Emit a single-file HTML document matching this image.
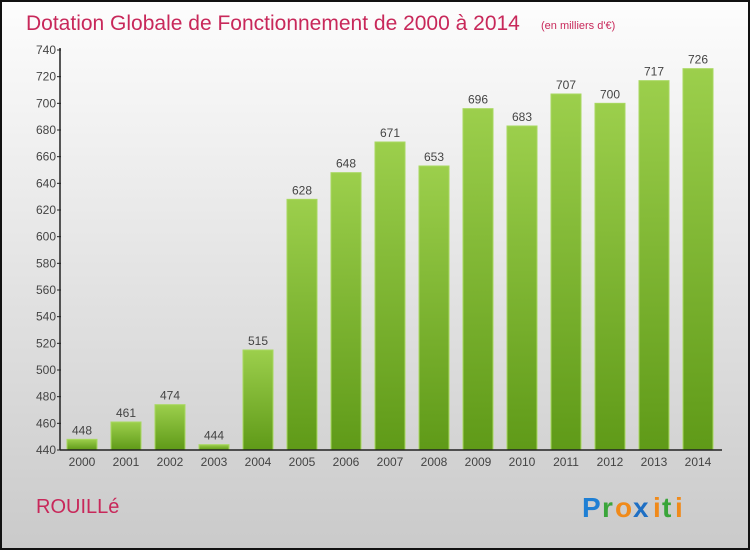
<!DOCTYPE html>
<html><head><meta charset="utf-8"><style>
html,body{margin:0;padding:0;}
body{width:750px;height:550px;overflow:hidden;font-family:"Liberation Sans",sans-serif;}
</style></head><body>
<svg id="c" width="750" height="550" xmlns="http://www.w3.org/2000/svg">
<defs>
<linearGradient id="bg" x1="0" y1="0" x2="0" y2="1"><stop offset="0" stop-color="#fdfdfd"/><stop offset="1" stop-color="#cacaca"/></linearGradient>
<linearGradient id="bar" x1="0" y1="0" x2="0" y2="1"><stop offset="0" stop-color="#9ccf4c"/><stop offset="1" stop-color="#5f9a18"/></linearGradient>
</defs>
<rect x="1" y="1" width="748" height="548" fill="url(#bg)" stroke="#111" stroke-width="2"/>
<text x="26" y="30" font-size="21" fill="#c8285a">Dotation Globale de Fonctionnement de 2000 à 2014</text>
<text x="541" y="29" font-size="11" fill="#c8285a">(en milliers d'€)</text>
<text x="36" y="513" font-size="20" fill="#c8285a">ROUILLé</text>
<g font-size="28" font-weight="bold">
<text x="582" y="517" fill="#1e7fd4">P</text><text x="602" y="517" fill="#3aa53a">r</text><text x="615" y="517" fill="#f08a1a">o</text><text x="633" y="517" fill="#1e6fc4">x</text><text x="653" y="517" fill="#f08a1a">i</text><text x="662" y="517" fill="#3aa53a">t</text><text x="675" y="517" fill="#f08a1a">i</text>
</g>
<g id="plot"></g>
</svg>
<script>
const years=["2000","2001","2002","2003","2004","2005","2006","2007","2008","2009","2010","2011","2012","2013","2014"];
const values=[448,461,474,444,515,628,648,671,653,696,683,707,700,717,726];
const yTicks=[440,460,480,500,520,540,560,580,600,620,640,660,680,700,720,740];
const NS="http://www.w3.org/2000/svg";
const g=document.getElementById('plot');
const yMin=440,yMax=740,plotTop=50,plotBot=450;
function y(v){return plotBot-(v-yMin)/(yMax-yMin)*(plotBot-plotTop);}
function x(i){return 82+i*44;}
function mk(t,a){const e=document.createElementNS(NS,t);for(const k in a)e.setAttribute(k,a[k]);g.appendChild(e);return e;}
yTicks.forEach(t=>{
  const l=mk('line',{x1:57,x2:61,y1:y(t),y2:y(t),stroke:'#222'});
  
  
  const tx=mk('text',{x:56,y:y(t)+4,'font-size':12,fill:'#444','text-anchor':'end'});
  tx.textContent=t;
  
  
});
values.forEach((v,i)=>{
  const r=mk('rect',{x:x(i)-15,y:y(v),width:30,height:plotBot-y(v),fill:'url(#bar)',stroke:'#a8d860','stroke-width':1});
  
  
  const vt=mk('text',{x:x(i),y:y(v)-5,'font-size':12,fill:'#444','text-anchor':'middle'});
  vt.textContent=v;
  
  
  const xt=mk('text',{x:x(i),y:plotBot+16,'font-size':12,fill:'#444','text-anchor':'middle'});
  xt.textContent=years[i];
  
  
});
const ya=mk('line',{x1:60,x2:60,y1:plotTop-2,y2:plotBot,stroke:'#222','stroke-width':1.5});


const xa=mk('line',{x1:60,x2:722,y1:plotBot,y2:plotBot,stroke:'#222','stroke-width':1.5});


</script>
</body></html>
